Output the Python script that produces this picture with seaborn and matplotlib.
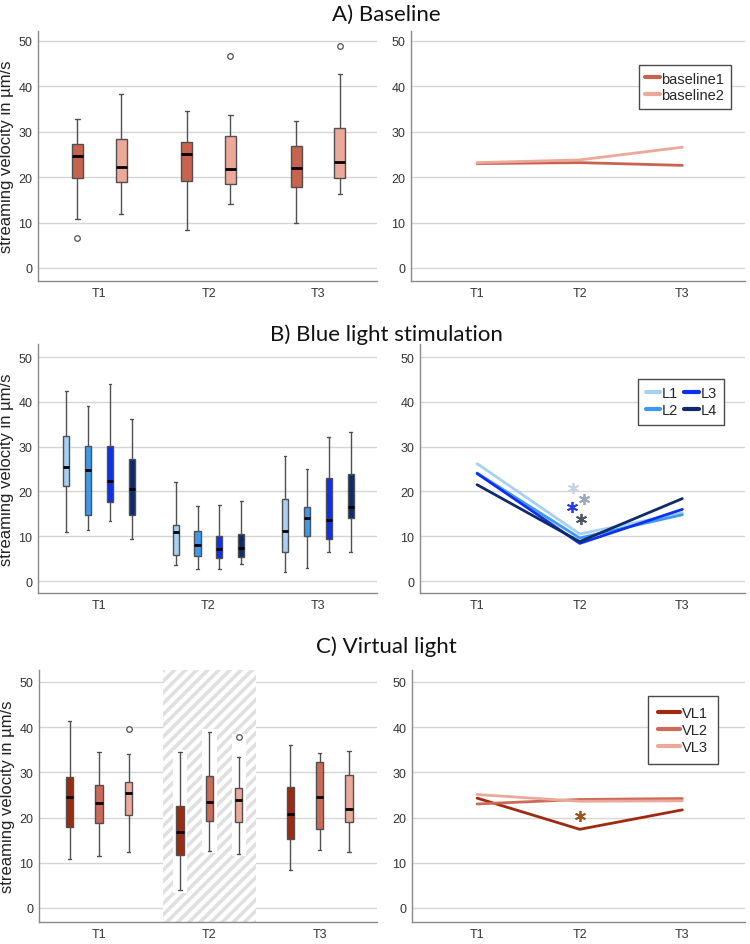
import numpy as np
import pandas as pd
import matplotlib
matplotlib.use('Agg')
import matplotlib.pyplot as plt
import seaborn as sns

# ---- data ----
times = ['T1', 'T2', 'T3']

# box summaries per time point: [whisker low, q1, median, q3, whisker high]
baseline1_box = [[10.7, 19.8, 24.6, 27.2, 32.9], [8.3, 19.1, 25.1, 27.8, 34.6], [10.0, 17.9, 22.1, 26.9, 32.4]]
baseline2_box = [[11.9, 19.0, 22.2, 28.3, 38.4], [14.1, 18.4, 21.7, 29.1, 33.8], [16.3, 19.8, 23.4, 30.9, 42.8]]
baseline_outliers = [('T1', 'baseline1', 6.6), ('T2', 'baseline2', 46.6), ('T3', 'baseline2', 48.8)]
baseline1_mean = [23.0, 23.2, 22.6]
baseline2_mean = [23.2, 23.8, 26.6]

L1_box = [[10.9, 21.1, 25.5, 32.4, 42.4], [3.6, 5.8, 10.9, 12.4, 22.0], [2.1, 6.4, 11.1, 18.4, 27.9]]
L2_box = [[11.4, 14.8, 24.8, 30.2, 39.1], [2.7, 5.6, 8.1, 11.1, 16.7], [2.8, 10.0, 14.1, 16.5, 25.0]]
L3_box = [[13.3, 17.6, 22.3, 30.2, 43.9], [2.6, 5.2, 7.2, 10.1, 16.9], [6.5, 9.4, 13.7, 23.0, 32.2]]
L4_box = [[9.3, 14.7, 20.5, 27.3, 36.1], [3.8, 5.4, 7.4, 10.6, 17.9], [6.5, 14.0, 16.6, 23.9, 33.3]]
L1_mean = [26.2, 10.5, 15.2]
L2_mean = [24.1, 9.6, 14.8]
L3_mean = [24.0, 8.4, 16.0]
L4_mean = [21.5, 8.8, 18.4]
blue_star_x = [0.93, 1.04, 0.92, 1.01]
blue_star_y = [20.8, 18.3, 16.5, 13.9]
blue_star_colors = ['#c9d3e2', '#9ba8ba', '#2b40e0', '#4f5660']

VL1_box = [[10.9, 18.0, 24.6, 28.9, 41.4], [3.9, 11.8, 16.8, 22.6, 34.4], [8.5, 15.2, 20.8, 26.7, 36.1]]
VL2_box = [[11.6, 18.8, 23.2, 27.2, 34.6], [12.6, 19.3, 23.4, 29.3, 39.0], [12.8, 17.4, 24.6, 32.3, 34.3]]
VL3_box = [[12.4, 20.6, 25.5, 27.9, 34.0], [12.0, 19.0, 23.8, 26.5, 33.3], [12.3, 19.1, 21.9, 29.4, 34.7]]
virtual_outliers = [('T1', 'VL3', 39.6), ('T2', 'VL3', 37.9)]
VL1_mean = [24.3, 17.4, 21.7]
VL2_mean = [23.0, 24.0, 24.2]
VL3_mean = [25.1, 23.6, 23.7]
virtual_star_x = [1.0]
virtual_star_y = [20.4]

base_groups = ['baseline1', 'baseline2']
base_colors = {'baseline1': '#c8634f', 'baseline2': '#eca898'}
blue_groups = ['L1', 'L2', 'L3', 'L4']
blue_colors = {'L1': '#a6d0f4', 'L2': '#3d99ee', 'L3': '#0b30ee', 'L4': '#0f2b6c'}
vl_groups = ['VL1', 'VL2', 'VL3']
vl_colors = {'VL1': '#9e2a10', 'VL2': '#cc6a57', 'VL3': '#eba99b'}

sns.set_style('white')
plt.rcParams['font.family'] = ['Liberation Sans', 'DejaVu Sans']
plt.rcParams['hatch.linewidth'] = 2.6
plt.rcParams['hatch.color'] = '#e0e0e0'


def box_frame(groups, boxes):
    rows = []
    for g, per_time in zip(groups, boxes):
        for t, vals in zip(times, per_time):
            for v in vals:
                rows.append((t, g, v))
    return pd.DataFrame(rows, columns=['time', 'group', 'value'])


def mean_frame(groups, means):
    rows = []
    for g, vals in zip(groups, means):
        for t, v in zip(times, vals):
            rows.append((t, g, v))
    return pd.DataFrame(rows, columns=['time', 'group', 'value'])


def style(ax, xlim, ylim):
    ax.set_xlim(*xlim)
    ax.set_ylim(*ylim)
    ax.set_yticks(range(0, 51, 10))
    ax.grid(axis='y', color='#d6d6d6', linewidth=1)
    ax.grid(axis='x', visible=False)
    ax.set_axisbelow(True)
    for s in ['top', 'right']:
        ax.spines[s].set_visible(False)
    for s in ['left', 'bottom']:
        ax.spines[s].set_color('#8a8a8a')
        ax.spines[s].set_linewidth(1)
    ax.tick_params(length=0, labelsize=9, colors='#333333', pad=4)
    ax.set_xlabel('')
    ax.set_ylabel('')


def draw_boxes(ax, groups, boxes, palette, gap, outliers, capw):
    df = box_frame(groups, boxes)
    sns.boxplot(data=df, x='time', y='value', hue='group', order=times, hue_order=groups,
                palette=palette, saturation=1, width=0.8, gap=gap, whis=np.inf,
                linecolor='#505050', linewidth=1,
                medianprops={'color': 'black', 'linewidth': 2}, showfliers=False, legend=False,
                capwidths=capw, ax=ax)
    if outliers:
        odf = pd.DataFrame(outliers, columns=['time', 'group', 'value'])
        sns.stripplot(data=odf, x='time', y='value', hue='group', order=times, hue_order=groups,
                      dodge=True, jitter=False, palette={g: 'white' for g in groups},
                      edgecolor='#505050', linewidth=0.9, size=4, legend=False, ax=ax, zorder=3)


def draw_lines(ax, groups, means, palette, anchor, ncol=1, pad=0.45, hlen=1.0):
    df = mean_frame(groups, means)
    sns.lineplot(data=df, x='time', y='value', hue='group', hue_order=groups, palette=palette,
                 linewidth=2, sort=False, ax=ax)
    handles, labels = ax.get_legend_handles_labels()
    leg = ax.legend(handles, labels, loc='upper right', bbox_to_anchor=anchor, ncol=ncol,
                    frameon=True, fancybox=False, edgecolor='#4a4a4a', framealpha=1, fontsize=10.5,
                    handlelength=hlen, handletextpad=0.12, borderpad=pad, labelspacing=0.2,
                    columnspacing=0.4, borderaxespad=0)
    leg.get_frame().set_linewidth(1)
    for h in leg.get_lines():
        h.set_linewidth(3)


ylab = 'streaming velocity in µm/s'
fig = plt.figure(figsize=(7.5, 9.45), dpi=100)

# ---- A) Baseline ----
axA1 = fig.add_axes([0.0507, 0.7016, 0.452, 0.2646])
draw_boxes(axA1, base_groups, [baseline1_box, baseline2_box], base_colors, 0.75, baseline_outliers, 0.04)
style(axA1, (-0.56, 2.54), (-2.86, 52.2))
axA1.set_ylabel(ylab, fontsize=12, color='#222222', labelpad=3)

axA2 = fig.add_axes([0.548, 0.7016, 0.4453, 0.2646])
draw_lines(axA2, base_groups, [baseline1_mean, baseline2_mean], base_colors, (0.958, 0.864))
style(axA2, (-0.644, 2.61), (-2.86, 52.2))

# ---- B) Blue light stimulation ----
axB1 = fig.add_axes([0.0507, 0.3714, 0.452, 0.2635])
draw_boxes(axB1, blue_groups, [L1_box, L2_box, L3_box, L4_box], blue_colors, 0.72, None, 0.025)
style(axB1, (-0.557, 2.54), (-2.68, 52.9))
axB1.set_ylabel(ylab, fontsize=12, color='#222222', labelpad=3)

axB2 = fig.add_axes([0.56, 0.3714, 0.4333, 0.2635])
draw_lines(axB2, blue_groups, [L1_mean, L2_mean, L3_mean, L4_mean], blue_colors, (0.935, 0.859),
           ncol=2, pad=0.5)
for x, y, c in zip(blue_star_x, blue_star_y, blue_star_colors):
    axB2.plot([x], [y], marker=(6, 2, 0), markersize=8, markeredgewidth=1.3, color=c, linestyle='none')
style(axB2, (-0.556, 2.61), (-2.68, 52.9))

# ---- C) Virtual light ----
axC1 = fig.add_axes([0.052, 0.0233, 0.4507, 0.2667])
axC1.axvspan(0.58, 1.42, facecolor='white', edgecolor='#e0e0e0', hatch='///', linewidth=0, zorder=0.8)
offsets = [-0.267, 0.0, 0.267]
for i, (g, box) in enumerate(zip(vl_groups, [VL1_box, VL2_box, VL3_box])):
    lo, hi = box[1][0], box[1][4]
    tops = [v for (t, gg, v) in virtual_outliers if t == 'T2' and gg == g]
    hi = max([hi] + tops)
    axC1.bar(1 + offsets[i], hi - lo + 1.0, bottom=lo - 0.5, width=0.13, color='white', linewidth=0, zorder=0.9)
draw_boxes(axC1, vl_groups, [VL1_box, VL2_box, VL3_box], vl_colors, 0.75, virtual_outliers, 0.03)
style(axC1, (-0.545, 2.52), (-3.1, 52.65))
axC1.set_ylabel(ylab, fontsize=12, color='#222222', labelpad=3)

axC2 = fig.add_axes([0.5493, 0.0233, 0.444, 0.2667])
draw_lines(axC2, vl_groups, [VL1_mean, VL2_mean, VL3_mean], vl_colors, (0.919, 0.897), pad=0.7, hlen=1.5)
for x, y in zip(virtual_star_x, virtual_star_y):
    axC2.plot([x], [y], marker=(6, 2, 0), markersize=8, markeredgewidth=1.3, color='#9a5526', linestyle='none')
style(axC2, (-0.634, 2.61), (-3.1, 52.65))

# panel titles
for ytxt, label in [(0.9778, 'A) Baseline'), (0.6392, 'B) Blue light stimulation'), (0.309, 'C) Virtual light')]:
    fig.text(0.515, ytxt, label, ha='center', va='baseline', fontsize=16, family=['Lato', 'DejaVu Sans'], color='#111111')

fig.savefig('out.png', dpi=100)
